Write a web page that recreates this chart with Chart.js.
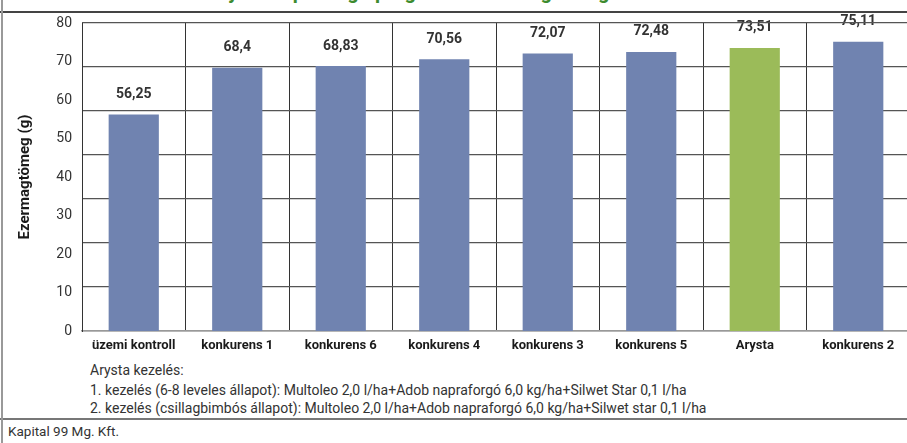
<!DOCTYPE html>
<html>
<head>
<meta charset="utf-8">
<script src="https://cdn.jsdelivr.net/npm/chart.js@4"></script>
<style>
body { margin: 0; width: 907px; height: 443px; overflow: hidden; position: relative; background: #fff; font-family: Roboto, sans-serif; color: #333; }
#title { position: absolute; left: 0; top: -18px; width: 907px; text-align: center; color: #3d8b2f; font-weight: bold; font-size: 20px; line-height: 20px; white-space: nowrap; }
#box { position: absolute; left: 0; top: 0; width: 915px; height: 360px; }
.rule { position: absolute; }
.note { position: absolute; left: 90px; font-size: 14px; line-height: 16px; white-space: nowrap; color: #333; }
</style>
</head>
<body>
<div id="title">Arysta napraforgó program – ezermagtömeg alakulása</div>
<div class="rule" style="left:0;top:11px;width:907px;height:2px;background:#444"></div>
<div id="box"><canvas id="c"></canvas></div>
<div class="note" style="top:362px">Arysta kezelés:</div>
<div class="note" style="top:382px">1. kezelés (6-8 leveles állapot): Multoleo 2,0 l/ha+Adob napraforgó 6,0 kg/ha+Silwet Star 0,1 l/ha</div>
<div class="note" style="top:400px">2. kezelés (csillagbimbós állapot): Multoleo 2,0 l/ha+Adob napraforgó 6,0 kg/ha+Silwet star 0,1 l/ha</div>
<div class="rule" style="left:0;top:418px;width:907px;height:2px;background:#777"></div>
<div class="note" style="left:8px;top:423px;font-size:13.5px">Kapital 99 Mg. Kft.</div>
<div class="rule" style="left:1px;top:0;width:2px;height:443px;background:#999"></div>
<script>
var categories = ["üzemi kontroll", "konkurens 1", "konkurens 6", "konkurens 4", "konkurens 3", "konkurens 5", "Arysta", "konkurens 2"];
var values = [56.25, 68.4, 68.83, 70.56, 72.07, 72.48, 73.51, 75.11];
var highlight = "Arysta";
var yMin = 0, yMax = 80, yStep = 10;
var gridSteps = 7; // the picture's horizontal grid has 7 bands, not 8

var colors = categories.map(function(c) { return c === highlight ? "#9bbb59" : "#7083b0"; });

// value labels, drawn before the scales so the top frame line crosses them like in the picture
var valueLabels = {
	id: "valueLabels",
	beforeDraw: function(chart) {
		var ctx = chart.ctx;
		var meta = chart.getDatasetMeta(0);
		ctx.save();
		ctx.font = "bold 14px Roboto";
		ctx.fillStyle = "#333";
		ctx.textAlign = "center";
		ctx.textBaseline = "middle";
		meta.data.forEach(function(bar, i) {
			ctx.fillText(String(values[i]).replace(".", ","), bar.x, bar.y - 20);
		});
		ctx.restore();
	}
};

new Chart(document.getElementById("c"), {
	type: "bar",
	data: {
		labels: categories,
		datasets: [{
			data: values,
			backgroundColor: colors,
			categoryPercentage: 1,
			barPercentage: 0.485,
			yAxisID: "y"
		}]
	},
	options: {
		responsive: true,
		maintainAspectRatio: false,
		animation: false,
		layout: { padding: { top: 23, right: 5, left: 0, bottom: 0 } },
		plugins: { legend: { display: false }, tooltip: { enabled: false } },
		scales: {
			x: {
				grid: { color: "#333", lineWidth: 1, drawTicks: false, offset: true },
				border: { color: "#999", width: 1.5 },
				ticks: { font: { family: "Roboto", size: 13, weight: "bold" }, color: "#1a1a1a", padding: 7, maxRotation: 0, autoSkip: false },
				afterFit: function(s) { s.height = 29; }
			},
			y: {
				min: yMin, max: yMax,
				ticks: { stepSize: yStep, padding: 10, font: { family: "Roboto", size: 14 }, color: "#333" },
				grid: { display: false, drawTicks: false },
				border: { color: "#333", width: 1 },
				title: { display: true, text: "Ezermagtömeg (g)", font: { family: "Roboto", size: 15, weight: "bold" }, color: "#1a1a1a", padding: { top: 16, bottom: 0 } },
				afterFit: function(s) { s.width = 82; }
			},
			y2: {
				position: "right",
				min: 0, max: gridSteps,
				ticks: { display: false, stepSize: 1 },
				grid: { color: "#555", lineWidth: 1.2, drawTicks: false },
				border: { display: false },
				afterFit: function(s) { s.width = 0; }
			}
		}
	},
	plugins: [valueLabels]
});
</script>
</body>
</html>
